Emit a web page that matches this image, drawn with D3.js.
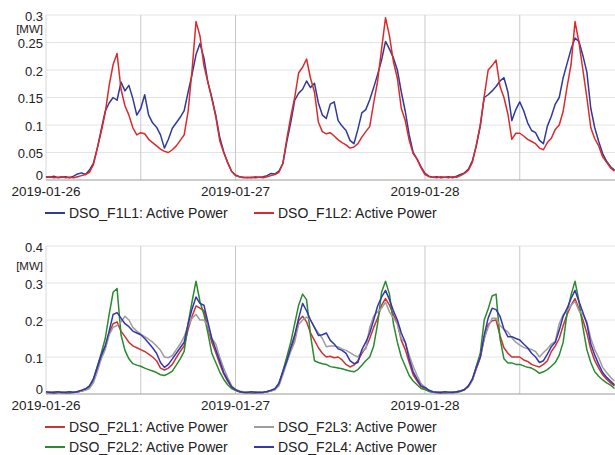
<!DOCTYPE html>
<html>
<head>
<meta charset="utf-8">
<script src="https://cdn.jsdelivr.net/npm/d3@7"></script>
<style>
body { margin: 0; background: #fff; }
svg { display: block; font-family: "Liberation Sans", Arial, sans-serif; }
</style>
</head>
<body>
<script>
// half-hourly readings, 2019-01-26 00:00 to 2019-01-29 00:00 (MW)
var f1l1 = [
  .006,.005,.007,.004,.005,.006,.004,.007,.011,.013,.010,.018,
  .030,.058,.092,.125,.140,.150,.145,.178,.162,.172,.148,.118,
  .130,.155,.118,.104,.096,.082,.058,.074,.094,.104,.114,.126,
  .160,.192,.228,.248,.222,.178,.150,.118,.078,.052,.032,.016,
  .009,.006,.005,.004,.005,.004,.005,.006,.008,.012,.011,.016,
  .030,.070,.105,.145,.158,.165,.180,.168,.176,.140,.118,.112,
  .138,.142,.108,.098,.090,.072,.066,.092,.122,.128,.146,.168,
  .192,.218,.252,.238,.222,.200,.160,.125,.082,.050,.038,.024,
  .012,.007,.005,.006,.004,.005,.006,.004,.007,.010,.013,.020,
  .035,.062,.098,.150,.155,.162,.170,.180,.186,.160,.108,.128,
  .142,.126,.104,.090,.086,.072,.066,.098,.116,.138,.150,.186,
  .212,.238,.258,.252,.226,.196,.130,.095,.070,.048,.034,.024,
  .018
];
var f1l2 = [
  .005,.006,.004,.005,.006,.004,.005,.004,.006,.008,.010,.014,
  .028,.058,.088,.122,.172,.210,.230,.165,.135,.118,.095,.082,
  .086,.084,.074,.068,.062,.056,.052,.050,.055,.062,.072,.082,
  .125,.200,.288,.262,.208,.178,.148,.115,.072,.050,.032,.016,
  .008,.006,.004,.005,.004,.006,.005,.004,.006,.008,.010,.014,
  .030,.075,.115,.150,.195,.205,.220,.185,.160,.105,.088,.084,
  .086,.080,.073,.068,.064,.058,.060,.066,.078,.088,.097,.140,
  .180,.238,.295,.262,.215,.185,.130,.108,.072,.048,.038,.022,
  .010,.006,.005,.004,.006,.005,.004,.006,.005,.008,.012,.018,
  .032,.064,.100,.152,.200,.208,.218,.170,.150,.120,.074,.085,
  .085,.080,.074,.070,.066,.058,.055,.068,.076,.092,.100,.125,
  .170,.210,.288,.250,.200,.150,.095,.075,.062,.042,.032,.022,
  .016
];
var f2l1 = [
  .004,.005,.003,.004,.005,.003,.004,.005,.005,.008,.012,.018,
  .036,.068,.100,.125,.165,.190,.195,.170,.155,.140,.130,.125,
  .120,.115,.108,.100,.090,.070,.065,.070,.080,.098,.115,.130,
  .175,.210,.238,.232,.225,.180,.140,.112,.082,.055,.035,.018,
  .010,.006,.004,.005,.004,.003,.005,.004,.006,.009,.012,.025,
  .058,.088,.120,.150,.198,.210,.195,.165,.145,.125,.110,.100,
  .102,.098,.100,.092,.080,.073,.078,.090,.110,.125,.150,.180,
  .205,.240,.258,.240,.215,.190,.145,.120,.085,.052,.035,.020,
  .015,.008,.005,.004,.003,.005,.004,.005,.006,.008,.011,.020,
  .038,.068,.098,.150,.188,.198,.200,.158,.125,.110,.100,.100,
  .100,.092,.088,.080,.076,.073,.080,.090,.115,.130,.150,.185,
  .215,.240,.258,.230,.200,.165,.120,.090,.070,.052,.040,.030,
  .022
];
var f2l2 = [
  .004,.005,.003,.004,.005,.004,.003,.005,.006,.008,.012,.020,
  .040,.075,.110,.150,.215,.275,.285,.160,.118,.095,.082,.078,
  .075,.070,.066,.062,.058,.052,.050,.055,.062,.078,.095,.115,
  .190,.250,.305,.250,.215,.165,.110,.085,.060,.040,.025,.015,
  .010,.006,.004,.005,.003,.004,.005,.004,.006,.009,.014,.030,
  .062,.100,.140,.190,.240,.270,.255,.160,.090,.085,.082,.080,
  .074,.072,.070,.068,.065,.062,.060,.066,.078,.090,.100,.130,
  .190,.275,.305,.270,.190,.140,.100,.075,.050,.035,.025,.015,
  .012,.007,.005,.004,.005,.003,.004,.005,.004,.007,.012,.022,
  .040,.075,.110,.200,.230,.265,.270,.150,.095,.084,.084,.080,
  .080,.076,.072,.070,.064,.056,.060,.066,.075,.085,.105,.140,
  .220,.268,.305,.250,.180,.120,.085,.060,.048,.038,.030,.024,
  .015
];
var f2l3 = [
  .005,.004,.006,.005,.004,.005,.006,.005,.006,.008,.010,.015,
  .030,.060,.095,.120,.160,.180,.185,.195,.210,.200,.180,.170,
  .162,.155,.148,.140,.130,.118,.100,.098,.104,.120,.135,.155,
  .185,.205,.215,.200,.200,.185,.150,.135,.100,.070,.045,.022,
  .012,.008,.006,.005,.004,.006,.005,.004,.006,.008,.012,.022,
  .052,.085,.115,.140,.188,.200,.208,.200,.180,.165,.150,.128,
  .130,.130,.127,.122,.118,.112,.105,.100,.115,.122,.180,.210,
  .222,.232,.248,.222,.205,.190,.150,.140,.105,.075,.050,.028,
  .018,.010,.006,.005,.006,.004,.005,.004,.006,.008,.012,.020,
  .036,.070,.100,.150,.180,.205,.205,.185,.175,.168,.152,.140,
  .132,.126,.122,.120,.115,.100,.112,.122,.135,.142,.190,.215,
  .225,.240,.250,.225,.215,.195,.150,.120,.098,.072,.058,.045,
  .035
];
var f2l4 = [
  .006,.004,.005,.006,.004,.005,.006,.004,.007,.010,.014,.022,
  .040,.072,.105,.130,.170,.215,.220,.205,.190,.182,.170,.165,
  .160,.150,.138,.125,.110,.085,.072,.080,.095,.110,.125,.140,
  .190,.230,.262,.245,.240,.195,.150,.120,.090,.058,.038,.020,
  .012,.007,.005,.004,.006,.005,.004,.005,.007,.010,.014,.028,
  .060,.090,.125,.160,.205,.245,.225,.200,.180,.158,.160,.165,
  .145,.135,.122,.118,.110,.090,.082,.085,.120,.140,.165,.200,
  .238,.262,.280,.255,.225,.200,.165,.140,.095,.060,.040,.022,
  .018,.010,.006,.005,.004,.006,.005,.004,.006,.008,.012,.022,
  .040,.072,.100,.160,.205,.232,.228,.210,.175,.155,.155,.150,
  .146,.135,.125,.110,.100,.085,.090,.108,.128,.140,.172,.210,
  .232,.258,.280,.250,.220,.190,.135,.105,.080,.058,.045,.035,
  .025
];

var topTicks = [0, 0.05, 0.1, 0.15, 0.2, 0.25, 0.3];
var bottomTicks = [0, 0.1, 0.2, 0.3, 0.4];
var dateTicks = ["2019-01-26", "2019-01-27", "2019-01-28"];
var gridTimes = ["2019-01-26 12:00", "2019-01-27 00:00", "2019-01-28 00:00", "2019-01-28 12:00"];

var width = 615;
var height = 455;

var svg = d3.select("body")
            .append("svg")
            .attr("width", width)
            .attr("height", height);

var parseDay = d3.timeParse("%Y-%m-%d");
var parseTime = d3.timeParse("%Y-%m-%d %H:%M");
var start = parseDay("2019-01-26");
var times = d3.range(f1l1.length).map(function(i) { return d3.timeMinute.offset(start, 30 * i); });

var x = d3.scaleTime()
          .domain([start, parseDay("2019-01-29")])
          .range([46, 614.5]);

function panel(cfg) {
    var y = d3.scaleLinear().domain([0, cfg.max]).range([cfg.bottom, cfg.top]);
    var g = svg.append("g");

    // horizontal grid
    g.selectAll("line.hgrid")
     .data(cfg.ticks.filter(function(d) { return d > 0; }))
     .enter().append("line")
     .attr("x1", 46).attr("x2", width)
     .attr("y1", function(d) { return y(d); })
     .attr("y2", function(d) { return y(d); })
     .attr("stroke", "#e4e4e4");

    // vertical grid
    g.selectAll("line.vgrid")
     .data(gridTimes)
     .enter().append("line")
     .attr("x1", function(d) { return x(parseTime(d)); })
     .attr("x2", function(d) { return x(parseTime(d)); })
     .attr("y1", cfg.top).attr("y2", cfg.bottom)
     .attr("stroke", "#c8c8c8");

    g.append("line")
     .attr("x1", 46).attr("x2", 46)
     .attr("y1", cfg.top).attr("y2", cfg.bottom)
     .attr("stroke", "#d8d8d8");

    g.append("line")
     .attr("x1", 46).attr("x2", width)
     .attr("y1", cfg.bottom).attr("y2", cfg.bottom)
     .attr("stroke", "#9a9a9a");

    // y tick labels
    g.selectAll("text.ytick")
     .data(cfg.ticks)
     .enter().append("text")
     .attr("x", 43)
     .attr("y", function(d) { return d === 0 ? y(d) - 5 : y(d) + 1; })
     .attr("dy", "0.35em")
     .attr("text-anchor", "end")
     .attr("font-size", "13px")
     .attr("fill", "#222")
     .text(function(d) { return d; });

    g.append("text")
     .attr("x", 43)
     .attr("y", cfg.unitY)
     .attr("dy", "0.35em")
     .attr("text-anchor", "end")
     .attr("font-size", "11.5px")
     .attr("fill", "#222")
     .text("[MW]");

    // date labels
    g.selectAll("text.xtick")
     .data(dateTicks)
     .enter().append("text")
     .attr("x", function(d) { return x(parseDay(d)); })
     .attr("y", cfg.bottom + 11)
     .attr("dy", "0.35em")
     .attr("text-anchor", "middle")
     .attr("font-size", "13.5px")
     .attr("fill", "#222")
     .text(function(d) { return d; });

    var line = d3.line()
                 .x(function(d, i) { return x(times[i]); })
                 .y(function(d) { return y(d); });

    cfg.series.forEach(function(s) {
        g.append("path")
         .attr("d", line(s.values))
         .attr("fill", "none")
         .attr("stroke", s.color)
         .attr("stroke-width", 1.5)
         .attr("stroke-linejoin", "round");
    });

    // legend
    cfg.series.forEach(function(s) {
        var lg = g.append("g").attr("transform", "translate(" + s.lx + "," + s.ly + ")");
        lg.append("line")
          .attr("x1", 0).attr("x2", 20)
          .attr("stroke", s.color)
          .attr("stroke-width", 2);
        lg.append("text")
          .attr("x", 24)
          .attr("dy", "0.35em")
          .attr("font-size", "14px")
          .attr("fill", "#222")
          .text(s.name);
    });
}

panel({
    max: 0.3, top: 15, bottom: 180, unitY: 29, ticks: topTicks,
    series: [
        { name: "DSO_F1L1: Active Power", values: f1l1, color: "#2f3a9c", lx: 45, ly: 213 },
        { name: "DSO_F1L2: Active Power", values: f1l2, color: "#dc2a2a", lx: 254, ly: 213 }
    ]
});

panel({
    max: 0.4, top: 246, bottom: 394, unitY: 266, ticks: bottomTicks,
    series: [
        { name: "DSO_F2L1: Active Power", values: f2l1, color: "#cc3333", lx: 45, ly: 427 },
        { name: "DSO_F2L2: Active Power", values: f2l2, color: "#2a8a2e", lx: 45, ly: 447 },
        { name: "DSO_F2L3: Active Power", values: f2l3, color: "#9e9e9e", lx: 254, ly: 427 },
        { name: "DSO_F2L4: Active Power", values: f2l4, color: "#3535b0", lx: 254, ly: 447 }
    ]
});
</script>
</body>
</html>
